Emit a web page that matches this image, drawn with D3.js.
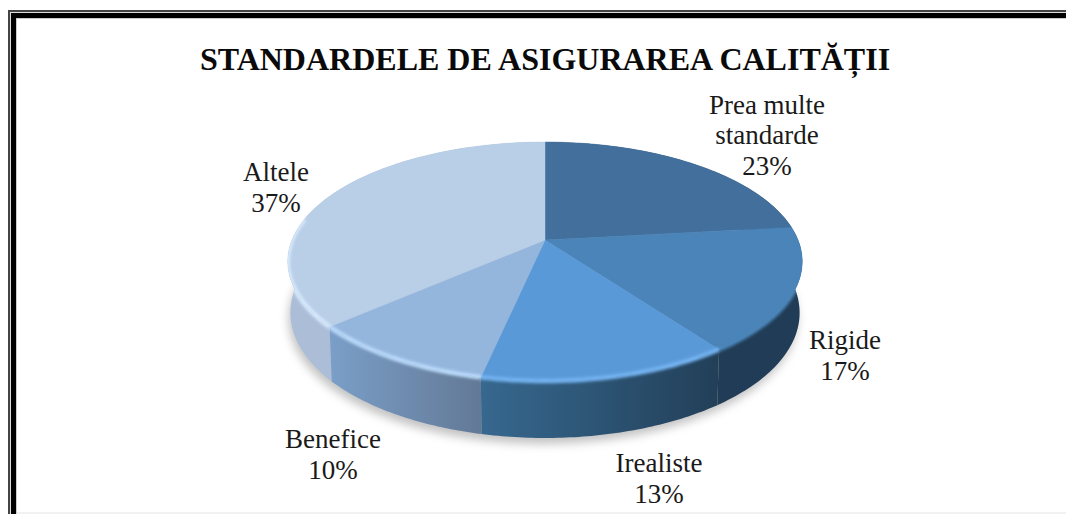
<!DOCTYPE html>
<html><head><meta charset="utf-8">
<script src="https://cdn.jsdelivr.net/npm/d3@7"></script>
<style>html,body{margin:0;padding:0;background:#fff;overflow:hidden}svg{display:block}text{font-family:"Liberation Serif",serif;fill:#1a1a1a}</style>
</head><body><script>
const chartTitle = "STANDARDELE DE ASIGURAREA CALITĂȚII";
const categories = ["Prea multe standarde","Rigide","Irealiste","Benefice","Altele"];
const values = [23.2,16.8,13.35,10.15,36.5];
const labelNames = [["Prea multe","standarde"],["Rigide"],["Irealiste"],["Benefice"],["Altele"]];
const topColors = ["#426f9c","#4a84b8","#5a99d7","#94b6dd","#b9cee7"];
const sideFrom = ["#2c5378","#213c56","#37688f","#7a9fc8","#acbdd8"];
const sideTo   = ["#213c56","#213c56","#223f58","#637996","#a0b2cc"];
const bevelColors = ["#426f9c","#4a84b8","#74b4f2","#bcdcfc","#d8ebfd"];

const W=1066,H=514;
const svg=d3.select("body").append("svg").attr("width",W).attr("height",H);
const defs=svg.append("defs");
defs.append("filter").attr("id","sh").attr("x","-10%").attr("y","-10%").attr("width","120%").attr("height","130%")
  .append("feGaussianBlur").attr("stdDeviation",5);
defs.append("filter").attr("id","bl").attr("filterUnits","userSpaceOnUse").attr("x",0).attr("y",0).attr("width",W).attr("height",H)
  .append("feGaussianBlur").attr("stdDeviation",1.5);

// frame
const frame=svg.append("g");
frame.append("rect").attr("x",8).attr("y",10).attr("width",W).attr("height",H).attr("fill","#444");
frame.append("rect").attr("x",10).attr("y",12).attr("width",W).attr("height",H).attr("fill","#ddd");
frame.append("rect").attr("x",11).attr("y",13).attr("width",W).attr("height",H).attr("fill","#000");
frame.append("rect").attr("x",16).attr("y",18).attr("width",W).attr("height",H).attr("fill","#ccc");
frame.append("rect").attr("x",17).attr("y",19).attr("width",W).attr("height",H).attr("fill","#fff");
frame.append("line").attr("x1",17).attr("x2",W).attr("y1",513).attr("y2",513).attr("stroke","#e4e4e4");

// perspective projection of the pie disc
const cx=545, A=253, k=-0.18, a=72.4, b=240;
function project(t){const u=Math.sin(t),v=-Math.cos(t),w=1+k*v;return [cx+A*u/w,(a*v+b)/w];}
function projectLow(t){const p=project(t),v=-Math.cos(t);return [cx+(p[0]-cx)*0.99,p[1]+50+7*v];}
const line=d3.line();
const arcs=d3.pie().sort(null).value(d=>d)(values);
const samples=(s,e)=>d3.range(0,61).map(i=>s+(e-s)*i/60);

// shadow
svg.append("path").attr("d",line(samples(0,2*Math.PI).map(projectLow))+"Z")
  .attr("transform","translate(-2,6)").attr("fill","#9a9a9a").attr("opacity",.6).attr("filter","url(#sh)");

// sides
arcs.forEach((d,i)=>{
  const p0=project(d.startAngle),p1=project(d.endAngle);
  const g=defs.append("linearGradient").attr("id","sg"+i).attr("gradientUnits","userSpaceOnUse")
    .attr("x1",Math.min(p0[0],p1[0])).attr("x2",Math.max(p0[0],p1[0])).attr("y1",0).attr("y2",0);
  g.append("stop").attr("offset",0).attr("stop-color",sideFrom[i]);
  g.append("stop").attr("offset",1).attr("stop-color",sideTo[i]);
});
const clip=defs.append("clipPath").attr("id","solid");
clip.append("path").attr("d",line(samples(0,2*Math.PI).map(project))+"Z");
[0,4,1,3,2].forEach(i=>{
  const d=arcs[i],ts=samples(d.startAngle,d.endAngle);
  const side=line(ts.map(project).concat(ts.slice().reverse().map(projectLow)))+"Z";
  clip.append("path").attr("d",side);
  svg.append("path").attr("d",side).attr("fill","url(#sg"+i+")");
});
// top faces
const apex=[cx,b];
arcs.forEach((d,i)=>{
  svg.append("path").attr("d",line([apex].concat(samples(d.startAngle,d.endAngle).map(project)))+"Z")
    .attr("fill",topColors[i]).attr("stroke",topColors[i]).attr("stroke-width",.5);
});
// soft rim highlight, front half of the disc only, kept inside the solid
const rim=svg.append("g").attr("clip-path","url(#solid)");
arcs.forEach((d,i)=>{
  const s=Math.max(d.startAngle,0.5*Math.PI),e=Math.min(d.endAngle,1.56*Math.PI);
  if(e<=s)return;
  rim.append("path").attr("d",line(samples(s,e).map(project)))
    .attr("fill","none").attr("stroke",bevelColors[i]).attr("stroke-width",4.5).attr("filter","url(#bl)");
});

// text
svg.append("text").attr("x",545).attr("y",70).attr("text-anchor","middle")
  .attr("font-size",32).attr("font-weight","bold").style("fill","#0a0a0a").text(chartTitle);
const labelAnchors=[[767,113.5],[845,349],[659,472],[333,448],[276,181]];
labelNames.forEach((ls,i)=>{
  const t=svg.append("text").attr("text-anchor","middle").attr("font-size",27);
  ls.concat([Math.round(values[i])+"%"]).forEach((s,j)=>
    t.append("tspan").attr("x",labelAnchors[i][0]).attr("y",labelAnchors[i][1]+j*30.7).text(s));
});
</script></body></html>
